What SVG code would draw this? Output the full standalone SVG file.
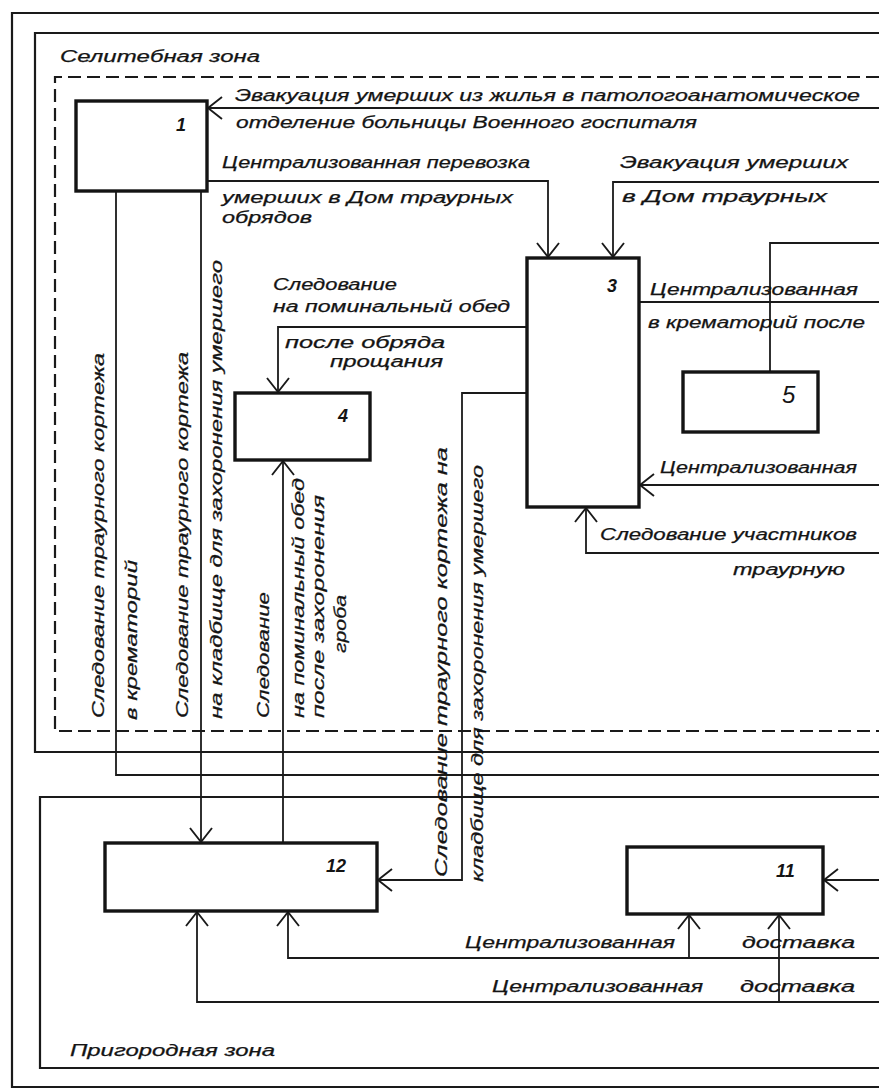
<svg xmlns="http://www.w3.org/2000/svg" width="879" height="1090" viewBox="0 0 879 1090">
<style>
.bg{fill:#ffffff}
.frame{fill:none;stroke:#1a1a1a;stroke-width:2.2}
.dash{fill:none;stroke:#1a1a1a;stroke-width:2.2;stroke-dasharray:13 6}
.box{fill:none;stroke:#141414;stroke-width:3.4}
.con{fill:none;stroke:#1a1a1a;stroke-width:1.8}
.t{font-family:"Liberation Sans","DejaVu Sans",sans-serif;font-style:italic;font-size:16px;fill:#141414;stroke:#141414;stroke-width:0.25}
.n{font-family:"Liberation Sans","DejaVu Sans",sans-serif;font-style:italic;font-weight:bold;font-size:18px;fill:#141414}
</style>
<defs>
<marker id="ar" markerUnits="userSpaceOnUse" viewBox="-16 -13 18 26" refX="0" refY="0" markerWidth="18" markerHeight="26" orient="auto">
<path d="M -14 -11 L 0 0 L -14 11" fill="none" stroke="#1a1a1a" stroke-width="1.9"/>
</marker>
</defs>
<rect class="bg" x="0" y="0" width="879" height="1090"/>

<g id="zones">
<path class="frame" d="M 879 13 H 12 V 1087 H 879"/>
<path class="frame" d="M 879 33 H 35 V 752 H 879"/>
<path class="dash" d="M 879 77 H 55 V 731 H 879"/>
<path class="frame" d="M 879 797 H 40 V 1068 H 879"/>
<text class="t" x="60" y="62" textLength="200" lengthAdjust="spacingAndGlyphs">Селитебная зона</text>
<text class="t" x="70" y="1056" textLength="205" lengthAdjust="spacingAndGlyphs">Пригородная зона</text>
</g>

<g id="connectors">
<path class="con" d="M 879 108 H 208" marker-end="url(#ar)"/>
<path class="con" d="M 207 181 H 548 V 257" marker-end="url(#ar)"/>
<path class="con" d="M 879 182 H 613 V 257" marker-end="url(#ar)"/>
<path class="con" d="M 527 327 H 278 V 392" marker-end="url(#ar)"/>
<path class="con" d="M 283 843 V 461" marker-end="url(#ar)"/>
<path class="con" d="M 116 191 V 775 H 879"/>
<path class="con" d="M 201 191 V 842" marker-end="url(#ar)"/>
<path class="con" d="M 527 393 H 462 V 880 H 378" marker-end="url(#ar)"/>
<path class="con" d="M 639 302 H 879"/>
<path class="con" d="M 879 243 H 770 V 372"/>
<path class="con" d="M 879 485 H 640" marker-end="url(#ar)"/>
<path class="con" d="M 879 553 H 586 V 508" marker-end="url(#ar)"/>
<path class="con" d="M 879 880 H 824" marker-end="url(#ar)"/>
<path class="con" d="M 879 958 H 288 V 912" marker-end="url(#ar)"/>
<path class="con" d="M 689 958 V 915" marker-end="url(#ar)"/>
<path class="con" d="M 879 1002 H 197 V 912" marker-end="url(#ar)"/>
<path class="con" d="M 779 1002 V 915" marker-end="url(#ar)"/>
</g>

<g id="labels">
<text class="t" x="235" y="101" textLength="625" lengthAdjust="spacingAndGlyphs">Эвакуация умерших из жилья в патологоанатомическое</text>
<text class="t" x="236" y="128" textLength="461" lengthAdjust="spacingAndGlyphs">отделение больницы Военного госпиталя</text>
<text class="t" x="222" y="168" textLength="308" lengthAdjust="spacingAndGlyphs">Централизованная перевозка</text>
<text class="t" x="222" y="203" textLength="291" lengthAdjust="spacingAndGlyphs">умерших в Дом траурных</text>
<text class="t" x="222" y="223" textLength="90" lengthAdjust="spacingAndGlyphs">обрядов</text>
<text class="t" x="620" y="168" textLength="228" lengthAdjust="spacingAndGlyphs">Эвакуация умерших</text>
<text class="t" x="622" y="202" textLength="205" lengthAdjust="spacingAndGlyphs">в Дом траурных</text>
<text class="t" x="273" y="290" textLength="124" lengthAdjust="spacingAndGlyphs">Следование</text>
<text class="t" x="273" y="312" textLength="237" lengthAdjust="spacingAndGlyphs">на поминальный обед</text>
<text class="t" x="285" y="348" textLength="160" lengthAdjust="spacingAndGlyphs">после обряда</text>
<text class="t" x="330" y="367" textLength="113" lengthAdjust="spacingAndGlyphs">прощания</text>
<text class="t" x="650" y="295" textLength="208" lengthAdjust="spacingAndGlyphs">Централизованная</text>
<text class="t" x="648" y="328" textLength="217" lengthAdjust="spacingAndGlyphs">в крематорий после</text>
<text class="t" x="660" y="473" textLength="197" lengthAdjust="spacingAndGlyphs">Централизованная</text>
<text class="t" x="600" y="540" textLength="257" lengthAdjust="spacingAndGlyphs">Следование участников</text>
<text class="t" x="733" y="575" textLength="112" lengthAdjust="spacingAndGlyphs">траурную</text>
<text class="t" x="465" y="948" textLength="210" lengthAdjust="spacingAndGlyphs">Централизованная</text>
<text class="t" x="742" y="948" textLength="113" lengthAdjust="spacingAndGlyphs">доставка</text>
<text class="t" x="492" y="992" textLength="211" lengthAdjust="spacingAndGlyphs">Централизованная</text>
<text class="t" x="740" y="992" textLength="115" lengthAdjust="spacingAndGlyphs">доставка</text>

<text class="t" transform="translate(104 718) rotate(-90)" textLength="365" lengthAdjust="spacingAndGlyphs">Следование траурного кортежа</text>
<text class="t" transform="translate(137 720) rotate(-90)" textLength="160" lengthAdjust="spacingAndGlyphs">в крематорий</text>
<text class="t" transform="translate(188 718) rotate(-90)" textLength="366" lengthAdjust="spacingAndGlyphs">Следование траурного кортежа</text>
<text class="t" transform="translate(222 719) rotate(-90)" textLength="459" lengthAdjust="spacingAndGlyphs">на кладбище для захоронения умершего</text>
<text class="t" transform="translate(269 718) rotate(-90)" textLength="126" lengthAdjust="spacingAndGlyphs">Следование</text>
<text class="t" transform="translate(304 718) rotate(-90)" textLength="240" lengthAdjust="spacingAndGlyphs">на поминальный обед</text>
<text class="t" transform="translate(324 718) rotate(-90)" textLength="223" lengthAdjust="spacingAndGlyphs">после захоронения</text>
<text class="t" transform="translate(346 653) rotate(-90)" textLength="58" lengthAdjust="spacingAndGlyphs">гроба</text>
<text class="t" transform="translate(447 877) rotate(-90)" textLength="430" lengthAdjust="spacingAndGlyphs">Следование траурного кортежа на</text>
<text class="t" transform="translate(483 882) rotate(-90)" textLength="417" lengthAdjust="spacingAndGlyphs">кладбище для захоронения умершего</text>
</g>

<g id="node1"><rect class="box" x="76" y="101" width="131" height="90"/><text class="n" x="176" y="131">1</text></g>
<g id="node3"><rect class="box" x="527" y="258" width="112" height="249"/><text class="n" x="607" y="292">3</text></g>
<g id="node4"><rect class="box" x="235" y="393" width="135" height="67"/><text class="n" x="338" y="422">4</text></g>
<g id="node5"><rect class="box" x="683" y="372" width="135" height="60"/><text class="n" x="782" y="403" style="font-size:24px;font-weight:normal">5</text></g>
<g id="node12"><rect class="box" x="105" y="843" width="272" height="68"/><text class="n" x="326" y="872">12</text></g>
<g id="node11"><rect class="box" x="627" y="847" width="196" height="67"/><text class="n" x="776" y="877">11</text></g>
</svg>
